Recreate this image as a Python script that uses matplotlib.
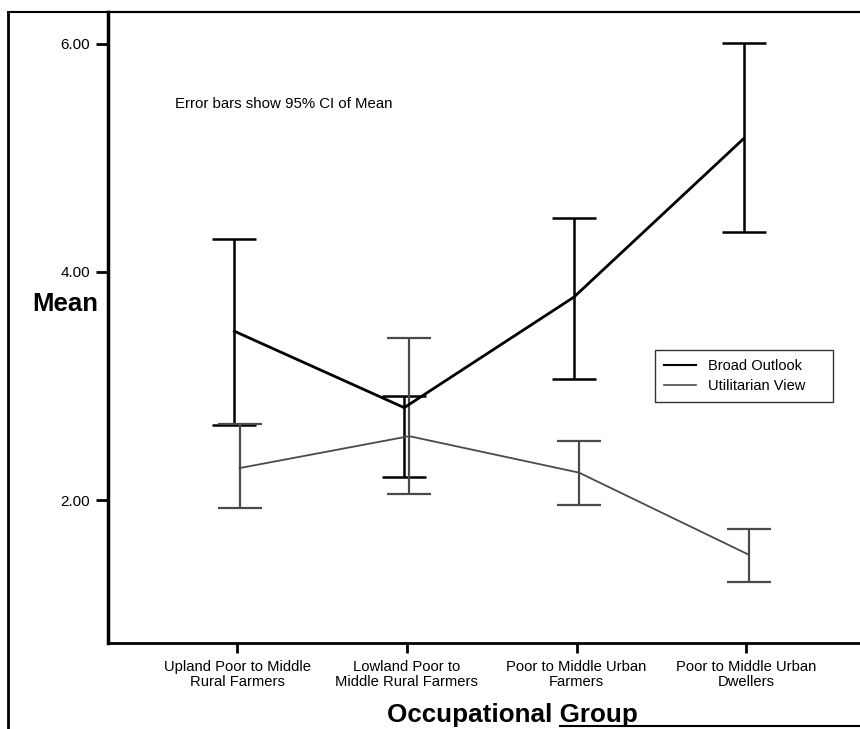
import numpy as np
import matplotlib.pyplot as plt
from matplotlib.lines import Line2D

plt.rcParams['font.family'] = ['Liberation Sans', 'DejaVu Sans']

groups = ["Upland Poor to Middle\nRural Farmers",
          "Lowland Poor to\nMiddle Rural Farmers",
          "Poor to Middle Urban\nFarmers",
          "Poor to Middle Urban\nDwellers"]

# Broad Outlook: mean and 95% CI
broad_mean = [3.48, 2.81, 3.78, 5.17]
broad_lo = [2.66, 2.20, 3.06, 4.35]
broad_hi = [4.29, 2.91, 4.47, 6.01]

# Utilitarian View: mean and 95% CI
util_mean = [2.28, 2.56, 2.24, 1.52]
util_lo = [1.93, 2.05, 1.96, 1.28]
util_hi = [2.67, 3.42, 2.52, 1.75]

broad_col = "black"
util_col = "#4a4a4a"

fig = plt.figure(figsize=(8.6, 7.29), dpi=100)
ax = fig.add_axes([108/860, 86/729, 752/860, 631/729])

x = np.arange(len(groups))
dodge = 0.015

bm = np.array(broad_mean)
um = np.array(util_mean)
ax.errorbar(x - dodge, bm, yerr=[bm - np.array(broad_lo), np.array(broad_hi) - bm],
            color=broad_col, lw=2.0, elinewidth=1.8, capsize=15.5, capthick=1.8)
ax.errorbar(x + dodge, um, yerr=[um - np.array(util_lo), np.array(util_hi) - um],
            color=util_col, lw=1.3, elinewidth=1.6, capsize=15.5, capthick=1.6)

ax.set_xlim(-0.76, 3.67)
ax.set_ylim(0.746, 6.28)
ax.set_yticks([2, 4, 6])
ax.set_yticklabels(["2.00", "4.00", "6.00"])
ax.set_xticks(x)
ax.set_xticklabels(groups, fontsize=10.6, linespacing=1.15)
ax.tick_params(axis="y", direction="out", length=9, width=2, labelsize=11, pad=4)
ax.tick_params(axis="x", direction="out", length=7, width=2, pad=5)

ax.spines["right"].set_visible(False)
ax.spines["left"].set_linewidth(2.5)
ax.spines["bottom"].set_linewidth(2.0)
ax.spines["top"].set_linewidth(1.5)

ax.text(0.089, 0.854, "Error bars show 95% CI of Mean", transform=ax.transAxes,
        fontsize=10.8, va="center", ha="left")

fig.text(65/860, 1 - 304/729, "Mean", fontsize=18.5, fontweight="bold",
         ha="center", va="center")
fig.text(512/860, 1 - 715/729, "Occupational Group", fontsize=18.7,
         fontweight="bold", ha="center", va="center")

handles = [Line2D([], [], color=broad_col, lw=1.5),
           Line2D([], [], color=util_col, lw=1.2)]
leg_top = 1 - (350 - 12)/631
leg = ax.legend(handles, ["Broad Outlook", "Utilitarian View"],
                loc="upper left", bbox_to_anchor=(547/752, leg_top - 0.1, 178/752, 0.1),
                mode="expand", borderaxespad=0,
                frameon=True, fancybox=False, edgecolor="black", fontsize=10.5,
                handlelength=2.2, borderpad=0.6, labelspacing=0.45,
                handletextpad=0.8)
leg.get_frame().set_linewidth(1.0)

# scanned outer frame
fig.add_artist(Line2D([8/860, 8/860], [0, 1 - 12/729], color="black", lw=2))
fig.add_artist(Line2D([8/860, 1], [1 - 12/729, 1 - 12/729], color="black", lw=1.5))
fig.add_artist(Line2D([560/860, 1], [1 - 726/729, 1 - 726/729], color="black", lw=1.5))

fig.savefig("out.png", dpi=100)
